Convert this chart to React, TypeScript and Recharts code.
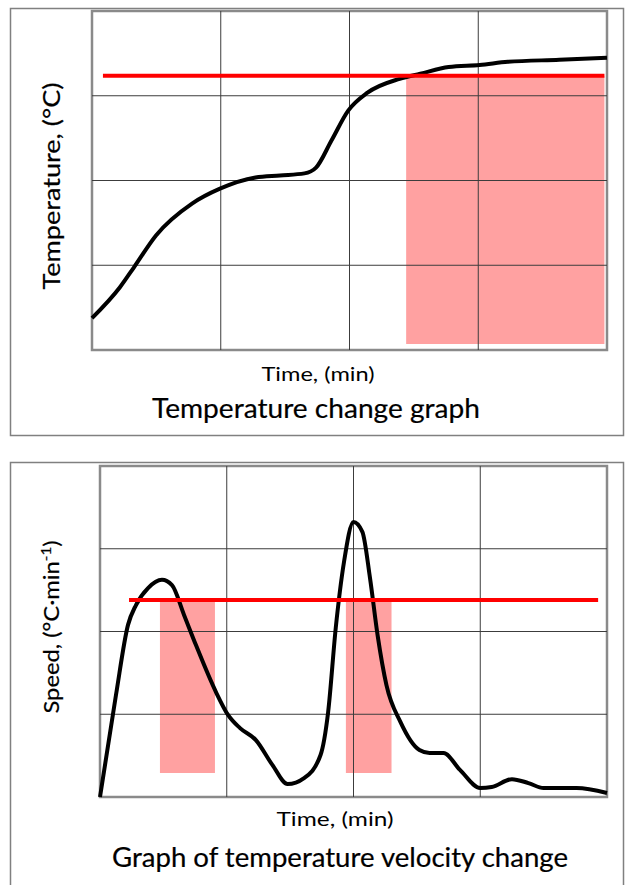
import React from "react";
import {
  ComposedChart,
  Line,
  XAxis,
  YAxis,
  ReferenceArea,
  ReferenceLine,
} from "recharts";

// ---- Temperature change graph ----
const tempTime = [0, 2.17, 3.26, 4.97, 7.77, 9.94, 12.7, 14.6, 16.5, 17.4, 18.6, 19.9, 21.4, 23.9, 25.5, 27.7, 30.1, 32.3, 36.3, 40];
const tempValue = [9.4, 18.5, 24.4, 33.8, 43.2, 47.6, 50.9, 51.5, 52.1, 53.8, 61.8, 70.6, 75.9, 80, 81.5, 83.5, 84.1, 85, 85.6, 86.2];
const tempThreshold = 80.9;
const tempThresholdRange = [0.85, 39.8];
const tempZone = { x1: 24.4, x2: 39.8, y1: 1.8, y2: 80.9 };

// ---- Graph of temperature velocity change ----
const speedTime = [0, 1.26, 2.21, 2.84, 3.79, 4.89, 5.68, 6.63, 7.57, 9.15, 10.1, 11.05, 12.3, 13.6, 14.8, 16.1, 17.4, 18.0, 18.6, 19.25, 20.0, 20.7, 21.3, 21.9, 22.6, 23.7, 25.2, 26.0, 27.1, 28.4, 30.0, 30.9, 32.5, 33.8, 35.0, 37.6, 40];
const speedValue = [0, 30.8, 52, 58, 63.1, 65.6, 64, 55, 45.9, 31.7, 24.8, 20.8, 17.2, 9.7, 3.9, 5.7, 12.7, 25.7, 51.1, 71, 83.1, 80.1, 66.2, 48.9, 33.8, 22.7, 14.2, 13.3, 13.3, 8.2, 2.7, 3.0, 5.4, 4.2, 2.7, 2.7, 1.2];
const speedThreshold = 59.5;
const speedThresholdRange = [2.29, 39.3];
const speedZones = [
  { x1: 4.73, x2: 9.07, y1: 7.25, y2: 59.5 },
  { x1: 19.4, x2: 23.0, y1: 7.25, y2: 59.5 },
];

const xTicks = [0, 10, 20, 30, 40];
const yTicks = [0, 25, 50, 75, 100];
const xGrid = [10, 20, 30];
const yGrid = [25, 50, 75];

const tempData = tempTime.map((t, i) => ({ t, v: tempValue[i] }));
const speedData = speedTime.map((t, i) => ({ t, v: speedValue[i] }));

const FONT = "Lato, 'Open Sans', sans-serif";
const GRID = "#3c3c3c";
const FRAME = "#8a8a8a";
const PINK = "#ff0000";

function gridLines() {
  return [
    ...xGrid.map((v) => <ReferenceLine key={"gx" + v} x={v} stroke={GRID} strokeWidth={1} ifOverflow="visible" />),
    ...yGrid.map((v) => <ReferenceLine key={"gy" + v} y={v} stroke={GRID} strokeWidth={1} ifOverflow="visible" />),
  ];
}

export default function App() {
  return (
    <div style={{ position: "absolute", left: 0, top: 0, width: 625, height: 885, background: "#fff" }}>
      <div style={{ position: "absolute", left: 0, top: 0 }}>
        <ComposedChart width={625} height={440} data={tempData} margin={{ top: 11, left: 92, right: 18, bottom: 90 }}>
          <XAxis dataKey="t" type="number" domain={[0, 40]} ticks={xTicks} tick={false} tickLine={false} axisLine={false} height={0} />
          <YAxis type="number" domain={[0, 100]} ticks={yTicks} tick={false} tickLine={false} axisLine={false} width={0} />
          {gridLines()}
          <Line dataKey="v" type="monotone" stroke="#000" strokeWidth={4} dot={false} isAnimationActive={false} />
          <ReferenceArea x1={tempZone.x1} x2={tempZone.x2} y1={tempZone.y1} y2={tempZone.y2} fill={PINK} fillOpacity={0.37} stroke="none" ifOverflow="visible" />
          <ReferenceLine segment={[{ x: tempThresholdRange[0], y: tempThreshold }, { x: tempThresholdRange[1], y: tempThreshold }]} stroke="#ff0000" strokeWidth={4} ifOverflow="visible" />
          <ReferenceArea x1={0} x2={40} y1={0} y2={100} fill="none" stroke={FRAME} strokeWidth={2.5} ifOverflow="visible" />
        </ComposedChart>
      </div>
      <div style={{ position: "absolute", left: 0, top: 445 }}>
        <ComposedChart width={625} height={440} data={speedData} margin={{ top: 21, left: 100, right: 18, bottom: 88 }}>
          <XAxis dataKey="t" type="number" domain={[0, 40]} ticks={xTicks} tick={false} tickLine={false} axisLine={false} height={0} />
          <YAxis type="number" domain={[0, 100]} ticks={yTicks} tick={false} tickLine={false} axisLine={false} width={0} />
          {gridLines()}
          <Line dataKey="v" type="monotone" stroke="#000" strokeWidth={4} dot={false} isAnimationActive={false} />
          {speedZones.map((z, i) => (
            <ReferenceArea key={i} x1={z.x1} x2={z.x2} y1={z.y1} y2={z.y2} fill={PINK} fillOpacity={0.37} stroke="none" ifOverflow="visible" />
          ))}
          <ReferenceLine segment={[{ x: speedThresholdRange[0], y: speedThreshold }, { x: speedThresholdRange[1], y: speedThreshold }]} stroke="#ff0000" strokeWidth={4} ifOverflow="visible" />
          <ReferenceArea x1={0} x2={40} y1={0} y2={100} fill="none" stroke={FRAME} strokeWidth={2.5} ifOverflow="visible" />
        </ComposedChart>
      </div>
      <svg width={625} height={885} style={{ position: "absolute", left: 0, top: 0, pointerEvents: "none" }} fontFamily={FONT} fill="#000">
        <rect x={10.5} y={8.5} width={613} height={427} fill="none" stroke="#808080" strokeWidth={1.5} />
        <path d="M10.5 885 L10.5 462.5 L623.5 462.5 L623.5 885" fill="none" stroke="#808080" strokeWidth={1.5} />
        <text transform="translate(60,186) rotate(-90)" textAnchor="middle" fontSize={23} textLength={207} lengthAdjust="spacingAndGlyphs" stroke="#000" strokeWidth={0.2}>Temperature, (°C)</text>
        <text x={318} y={381} textAnchor="middle" fontSize={20} textLength={113} lengthAdjust="spacingAndGlyphs">Time, (min)</text>
        <text x={316} y={418} textAnchor="middle" fontSize={27} textLength={328} lengthAdjust="spacingAndGlyphs" stroke="#000" strokeWidth={0.2}>Temperature change graph</text>
        <text transform="translate(59,627) rotate(-90)" textAnchor="middle" fontSize={22} textLength={173} lengthAdjust="spacingAndGlyphs" stroke="#000" strokeWidth={0.2}>
          <tspan>Speed, (°C·min</tspan>
          <tspan dy={-8} fontSize={14}>-1</tspan>
          <tspan dy={8}>)</tspan>
        </text>
        <text x={335} y={826} textAnchor="middle" fontSize={20} textLength={117} lengthAdjust="spacingAndGlyphs">Time, (min)</text>
        <text x={340} y={867} textAnchor="middle" fontSize={26} textLength={456} lengthAdjust="spacingAndGlyphs" stroke="#000" strokeWidth={0.2}>Graph of temperature velocity change</text>
      </svg>
    </div>
  );
}
